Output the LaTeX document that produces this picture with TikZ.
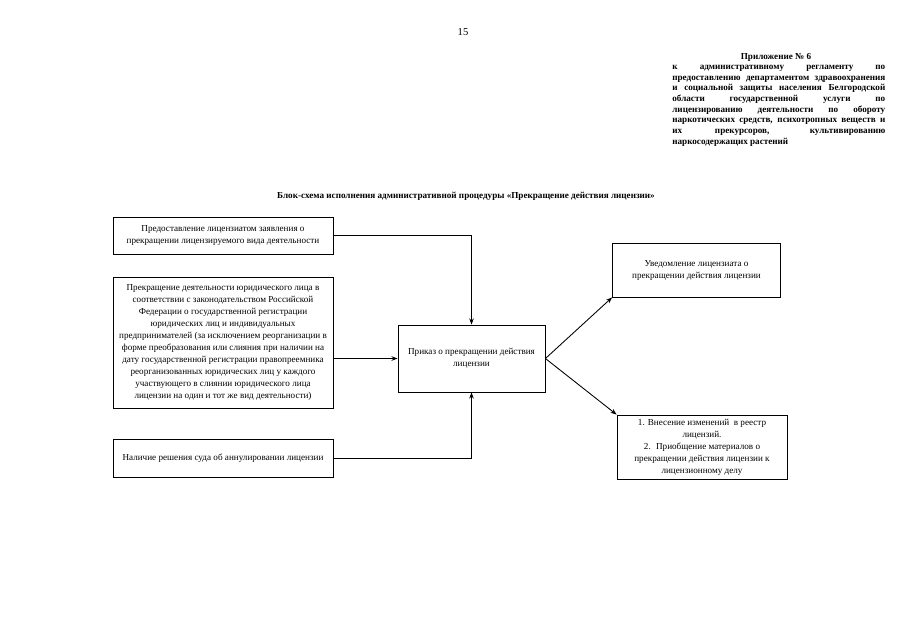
\documentclass[tikz,border=0pt]{standalone}
\usepackage{fontspec}
\setmainfont{Liberation Serif}
\usetikzlibrary{arrows.meta, positioning}

\newcommand{\fullline}[1]{\makebox[4.26cm][s]{#1}}

\begin{document}
\begin{tikzpicture}[
        x=0.02cm, y=-0.02cm,
        box/.style={draw, line width=0.5pt, align=center, inner sep=1pt, font=\fontsize{5.2}{6.8}\selectfont},
        arrow/.style={-{Stealth[length=3.5pt, width=2.6pt]}, line width=0.5pt},
        hdr/.style={font=\bfseries\fontsize{5.2}{6.05}\selectfont, inner sep=0pt}
      ]
        \useasboundingbox (0,0) rectangle (905,640);

        % Header
        \node[font=\fontsize{6}{7}\selectfont] (page) at (463,32) {15};
        \node[hdr] (apphead) at (776,57.5) {Приложение № 6};
        \node[hdr, align=left, anchor=north west] (apptext) at (672,65) {\fullline{к административному регламенту по}\\
          \fullline{предоставлению департаментом здравоохранения}\\
          \fullline{и социальной защиты населения Белгородской}\\
          \fullline{области государственной услуги по}\\
          \fullline{лицензированию деятельности по обороту}\\
          \fullline{наркотических средств, психотропных веществ и}\\
          \fullline{их прекурсоров, культивированию}\\
          наркосодержащих растений};
        \node[hdr] (title) at (466,196) {Блок-схема исполнения административной процедуры «Прекращение действия лицензии»};

        % Nodes
        \node[box, minimum width=4.4cm, minimum height=0.74cm] (claim) at (223,235.5) {Предоставление лицензиатом заявления о\\ прекращении лицензируемого вида деятельности};
        \node[box, minimum width=4.4cm, minimum height=2.62cm] (stop) at (223,342.5) {Прекращение деятельности юридического лица в\\ соответствии с законодательством Российской\\ Федерации о государственной регистрации\\ юридических лиц и индивидуальных\\ предпринимателей (за исключением реорганизации в\\ форме преобразования или слияния при наличии на\\ дату государственной регистрации правопреемника\\ реорганизованных юридических лиц у каждого\\ участвующего в слиянии юридического лица\\ лицензии на один и тот же вид деятельности)};
        \node[box, minimum width=4.4cm, minimum height=0.76cm] (court) at (223,458) {Наличие решения суда об аннулировании лицензии};
        \node[box, minimum width=2.94cm, minimum height=1.34cm] (order) at (471.5,358.5) {Приказ о прекращении действия\\ лицензии};
        \node[box, minimum width=3.36cm, minimum height=1.08cm] (notify) at (696.5,270) {Уведомление лицензиата о\\ прекращении действия лицензии};
        \node[box, minimum width=3.4cm, minimum height=1.28cm] (register) at (702,447) {1. Внесение изменений \ в реестр\\ лицензий.\\ 2. \ Приобщение материалов о\\ прекращении действия лицензии к\\ лицензионному делу};

        % Edges
        \draw[arrow] (claim) -| (order.north);
        \draw[arrow] (stop.east |- order) -- (order);
        \draw[arrow] (court) -| (order.south);
        \draw[arrow] (order.east) -- (notify.south west);
        \draw[arrow] (order.east) -- (register.north west);
      \end{tikzpicture}
\end{document}
